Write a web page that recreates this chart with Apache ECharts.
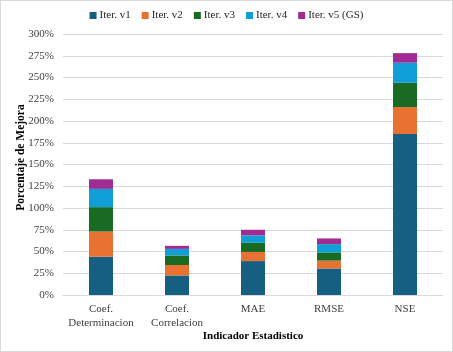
<!DOCTYPE html>
<html>
<head>
<meta charset="utf-8">
<script src="https://cdn.jsdelivr.net/npm/echarts@6/dist/echarts.min.js"></script>
<style>
  html, body { margin: 0; padding: 0; background: #fff; }
  #chart { width: 453px; height: 352px; box-sizing: border-box; border: 1px solid #d9d9d9; }
</style>
</head>
<body>
<div id="chart"></div>
<script>
const categories = ['Coef.\nDeterminacion', 'Coef.\nCorrelacion', 'MAE', 'RMSE', 'NSE'];
const seriesNames = ['Iter. v1', 'Iter. v2', 'Iter. v3', 'Iter. v4', 'Iter. v5 (GS)'];
const iterV1 = [44, 22.5, 39, 30.5, 185];
const iterV2 = [29, 12, 10.5, 9, 31];
const iterV3 = [28, 11, 10.5, 9.5, 28];
const iterV4 = [21, 7.5, 8.5, 9.5, 23];
const iterV5 = [11, 3.5, 6.5, 6.5, 11];
const colors = ['#156082', '#E97132', '#196B24', '#0F9ED5', '#A02B93'];

const allValues = [iterV1, iterV2, iterV3, iterV4, iterV5];
const font = 'Liberation Serif';

const chart = echarts.init(document.getElementById('chart'));

const option = {
  animation: false,
  color: colors,
  textStyle: { fontFamily: font },
  legend: {
    top: 4,
    left: 'center',
    itemWidth: 7,
    itemHeight: 7,
    itemGap: 11,
    icon: 'rect',
    textStyle: { fontFamily: font, fontSize: 11, color: '#262626', padding: [0, 0, 0, -2] },
    data: seriesNames
  },
  grid: { left: 62, right: 9, top: 33, bottom: 56 },
  xAxis: {
    type: 'category',
    data: categories,
    name: 'Indicador Estadistico',
    nameLocation: 'middle',
    nameGap: 36,
    nameMoveOverlap: false,
    nameTextStyle: { fontFamily: font, fontSize: 11, fontWeight: 'bold', color: '#000' },
    axisLine: { lineStyle: { color: '#d9d9d9' } },
    axisTick: { show: false },
    axisLabel: { fontFamily: font, fontSize: 11, color: '#404040', margin: 7, lineHeight: 14, interval: 0 }
  },
  yAxis: {
    type: 'value',
    min: 0,
    max: 300,
    interval: 25,
    name: 'Porcentaje de Mejora',
    nameLocation: 'middle',
    nameGap: 36,
    nameMoveOverlap: false,
    nameTextStyle: { fontFamily: font, fontSize: 11.5, fontWeight: 'bold', color: '#000', padding: [0, 0, 0, 14] },
    axisLine: { show: false },
    axisTick: { show: false },
    axisLabel: { fontFamily: font, fontSize: 11, color: '#404040', margin: 9, formatter: '{value}%' },
    splitLine: { lineStyle: { color: '#d9d9d9', width: 1 } }
  },
  series: seriesNames.map((name, i) => ({
    name: name,
    type: 'bar',
    stack: 'total',
    barWidth: 24,
    data: allValues[i],
    itemStyle: { color: colors[i] }
  }))
};

chart.setOption(option);
</script>
</body>
</html>
